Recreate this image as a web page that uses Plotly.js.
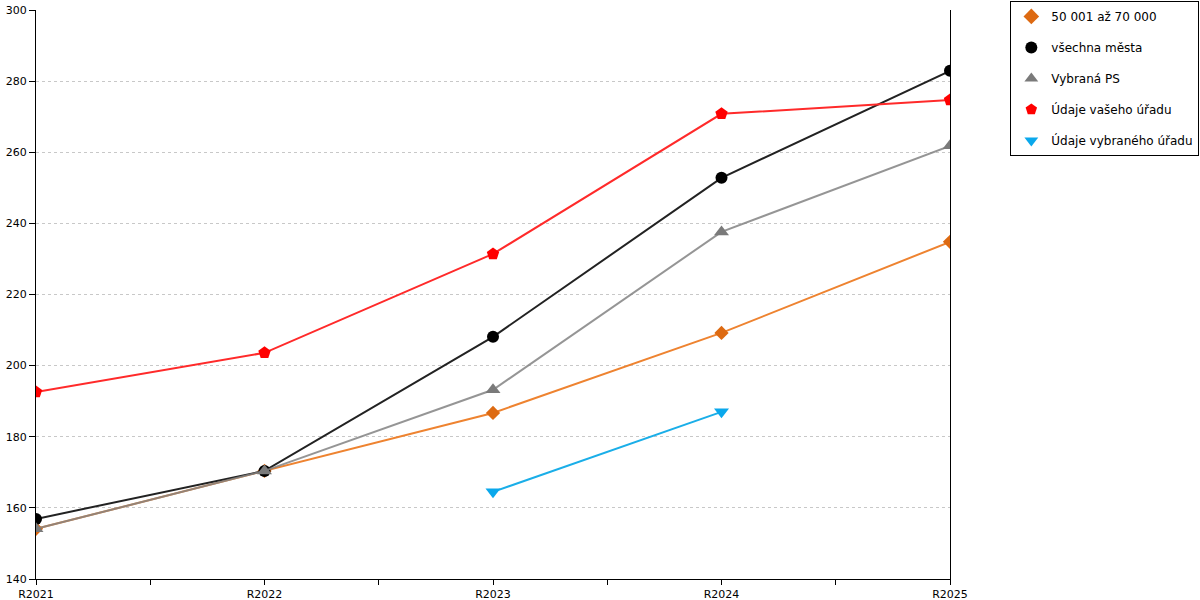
<!DOCTYPE html>
<html>
<head>
<meta charset="utf-8">
<script src="https://cdn.plot.ly/plotly-3.0.1.min.js"></script>
<style>
  html, body { margin: 0; padding: 0; background: #fff; }
  #chart { width: 1200px; height: 600px; }
</style>
</head>
<body>
<div id="chart"></div>
<script>
var roky = ["R2021", "R2022", "R2023", "R2024", "R2025"];

var nazvy = [
  "50 001 až 70 000",
  "všechna města",
  "Vybraná PS",
  "Údaje vašeho úřadu",
  "Údaje vybraného úřadu",
];

var velikostniSkupina = [154.1, 170.4, 186.7, 209.2, 234.8];
var vsechnaMesta = [156.9, 170.4, 208.1, 252.8, 282.9];
var vybranaPS = [154.1, 170.4, 193.2, 237.6, 261.8];
var vasUrad = [192.6, 203.6, 231.4, 270.8, 274.7];
var vybranyUrad = [null, null, 164.5, 187.0, null];

var rady = [velikostniSkupina, vsechnaMesta, vybranaPS, vasUrad, vybranyUrad];

// barvy a znacky pro jednotlive rady
var styly = [
  { line: "#ee8330", marker: "#dd6a12", symbol: "diamond", size: 11 },
  { line: "#222222", marker: "#000000", symbol: "circle", size: 12 },
  { line: "rgba(130,130,130,0.85)", marker: "#7a7a7a", symbol: "triangle-up", size: 13 },
  { line: "#ff2a2a", marker: "#ff0000", symbol: "pentagon", size: 13 },
  { line: "#1aaee8", marker: "#0aa8ec", symbol: "triangle-down", size: 13 },
];

// pozice kategorii na ose x (0..4), tick i mezi kategoriemi
var xIdx = roky.map(function (r, i) { return i; });
var tickVals = [];
var tickText = [];
roky.forEach(function (r, i) {
  tickVals.push(i);
  tickText.push(r);
  if (i < roky.length - 1) {
    tickVals.push(i + 0.5);
    tickText.push("");
  }
});

var data = [];
rady.forEach(function (y, i) {
  data.push({
    x: xIdx,
    y: y,
    mode: "lines+markers",
    name: nazvy[i],
    showlegend: false,
    line: { color: styly[i].line, width: 2 },
    marker: { color: styly[i].marker, symbol: styly[i].symbol, size: styly[i].size },
    hoverinfo: "y",
  });
});
// legenda jen se znackami
rady.forEach(function (y, i) {
  data.push({
    x: [null],
    y: [null],
    mode: "markers",
    name: nazvy[i],
    legendgroup: "g" + i,
    marker: { color: styly[i].marker, symbol: styly[i].symbol, size: 12 },
  });
});

var layout = {
  width: 1200,
  height: 600,
  margin: { l: 36, r: 250, t: 10, b: 21, autoexpand: false },
  paper_bgcolor: "white",
  plot_bgcolor: "white",
  font: { family: "DejaVu Sans, Verdana, sans-serif", size: 11, color: "#000" },
  xaxis: {
    range: [0, 4],
    tickvals: tickVals,
    ticktext: tickText,
    ticks: "outside",
    ticklen: 5,
    tickcolor: "#000",
    showgrid: false,
    zeroline: false,
    showline: true,
    linecolor: "#000",
    linewidth: 1,
    fixedrange: true,
    automargin: false,
  },
  yaxis: {
    range: [140, 300],
    dtick: 20,
    ticks: "outside",
    ticklen: 6,
    tickcolor: "#000",
    showgrid: true,
    gridcolor: "#c8c8c8",
    griddash: "dot",
    zeroline: false,
    showline: true,
    mirror: true,
    linecolor: "#000",
    linewidth: 1,
    fixedrange: true,
    automargin: false,
  },
  legend: {
    x: 1.066,
    y: 1.016,
    xanchor: "left",
    yanchor: "top",
    bordercolor: "#000",
    borderwidth: 1,
    bgcolor: "white",
    font: { size: 12 },
    tracegroupgap: 12,
    itemwidth: 30,
  },
  showlegend: true,
};

Plotly.newPlot("chart", data, layout, { displayModeBar: false, staticPlot: true });
</script>
</body>
</html>
